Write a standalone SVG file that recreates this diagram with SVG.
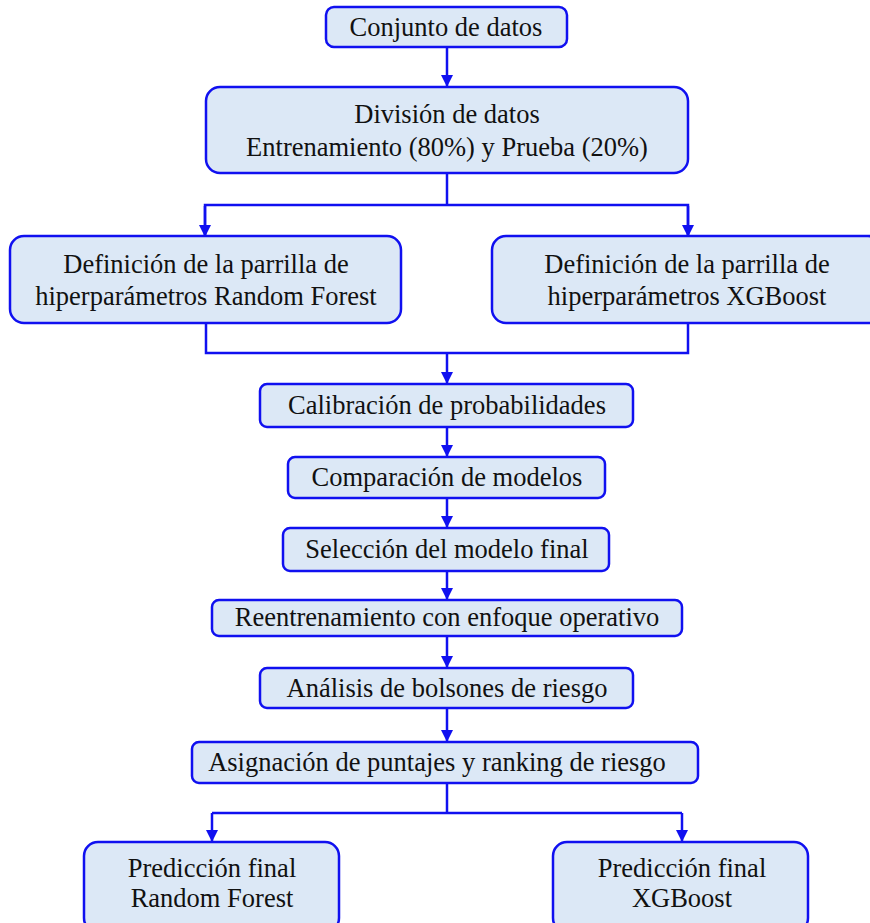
<svg xmlns="http://www.w3.org/2000/svg" width="870" height="923" viewBox="0 0 870 923">
  <style>
    .box { fill: #dce8f6; stroke: #1010f0; stroke-width: 2.5; }
    .lbl { font-family: "Liberation Serif", "Times New Roman", serif; font-size: 26.5px; fill: #111; text-anchor: middle; }
    .wire { fill: none; stroke: #1010f0; stroke-width: 2.5; }
  </style>
  <defs>
    <marker id="arrow" markerWidth="12" markerHeight="12" refX="10" refY="5" orient="auto" markerUnits="userSpaceOnUse" viewBox="0 0 10 10">
      <path d="M0,0 L10,5 L0,10 z" fill="#1010f0"/>
    </marker>
  </defs>
  <rect width="870" height="923" fill="#ffffff"/>

  <g id="connectors">
    <line class="wire" x1="447" y1="47" x2="447" y2="87" marker-end="url(#arrow)"/>
    <polyline class="wire" points="447,173 447,205"/>
    <polyline class="wire" points="205,237 205,205 688,205 688,237"/>
    <line class="wire" x1="205" y1="206" x2="205" y2="237" marker-end="url(#arrow)"/>
    <line class="wire" x1="688" y1="206" x2="688" y2="237" marker-end="url(#arrow)"/>
    <polyline class="wire" points="206,323 206,353 688,353 688,323"/>
    <line class="wire" x1="447" y1="353" x2="447" y2="384" marker-end="url(#arrow)"/>
    <line class="wire" x1="447" y1="427" x2="447" y2="457" marker-end="url(#arrow)"/>
    <line class="wire" x1="447" y1="498" x2="447" y2="528" marker-end="url(#arrow)"/>
    <line class="wire" x1="447" y1="571" x2="447" y2="600" marker-end="url(#arrow)"/>
    <line class="wire" x1="447" y1="636" x2="447" y2="668" marker-end="url(#arrow)"/>
    <line class="wire" x1="447" y1="708" x2="447" y2="742" marker-end="url(#arrow)"/>
    <polyline class="wire" points="447,783 447,813"/>
    <polyline class="wire" points="212,813 682,813"/>
    <line class="wire" x1="212" y1="813" x2="212" y2="842" marker-end="url(#arrow)"/>
    <line class="wire" x1="682" y1="813" x2="682" y2="842" marker-end="url(#arrow)"/>
  </g>

  <g id="n-conjunto">
    <rect class="box" x="326" y="7" width="241" height="40" rx="8"/>
    <text class="lbl" x="446" y="36">Conjunto de datos</text>
  </g>
  <g id="n-division">
    <rect class="box" x="206" y="87" width="482" height="86" rx="14"/>
    <text class="lbl" x="447" y="123">División de datos</text>
    <text class="lbl" x="447" y="156">Entrenamiento (80%) y Prueba (20%)</text>
  </g>
  <g id="n-grid-rf">
    <rect class="box" x="10" y="236" width="391" height="87" rx="14"/>
    <text class="lbl" x="206" y="273">Definición de la parrilla de</text>
    <text class="lbl" x="206" y="305">hiperparámetros Random Forest</text>
  </g>
  <g id="n-grid-xgb">
    <rect class="box" x="492" y="236" width="390" height="87" rx="14"/>
    <text class="lbl" x="687" y="273">Definición de la parrilla de</text>
    <text class="lbl" x="687" y="305">hiperparámetros XGBoost</text>
  </g>
  <g id="n-calibracion">
    <rect class="box" x="260" y="384" width="373" height="43" rx="7"/>
    <text class="lbl" x="447" y="414">Calibración de probabilidades</text>
  </g>
  <g id="n-comparacion">
    <rect class="box" x="288" y="457" width="317" height="41" rx="7"/>
    <text class="lbl" x="447" y="486">Comparación de modelos</text>
  </g>
  <g id="n-seleccion">
    <rect class="box" x="283" y="528" width="326" height="43" rx="7"/>
    <text class="lbl" x="447" y="558">Selección del modelo final</text>
  </g>
  <g id="n-reentrenamiento">
    <rect class="box" x="212" y="600" width="470" height="36" rx="7"/>
    <text class="lbl" x="447" y="626">Reentrenamiento con enfoque operativo</text>
  </g>
  <g id="n-analisis">
    <rect class="box" x="260" y="668" width="373" height="40" rx="7"/>
    <text class="lbl" x="447" y="697">Análisis de bolsones de riesgo</text>
  </g>
  <g id="n-asignacion">
    <rect class="box" x="192" y="742" width="506" height="41" rx="7"/>
    <text class="lbl" x="437" y="771">Asignación de puntajes y ranking de riesgo</text>
  </g>
  <g id="n-pred-rf">
    <rect class="box" x="84" y="842" width="255" height="90" rx="14"/>
    <text class="lbl" x="212" y="877">Predicción final</text>
    <text class="lbl" x="212" y="907">Random Forest</text>
  </g>
  <g id="n-pred-xgb">
    <rect class="box" x="553" y="842" width="255" height="90" rx="14"/>
    <text class="lbl" x="682" y="877">Predicción final</text>
    <text class="lbl" x="682" y="907">XGBoost</text>
  </g>
</svg>
